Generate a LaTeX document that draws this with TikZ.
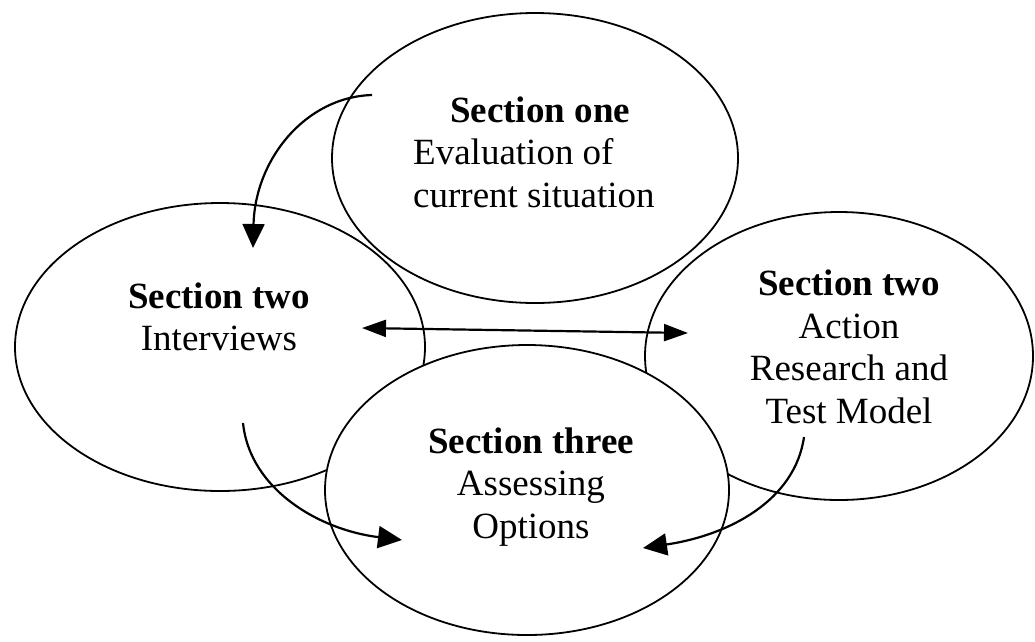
\documentclass[tikz,border=0pt]{standalone}
\usepackage{fontspec}
\setmainfont{Liberation Serif}
\usetikzlibrary{shapes.geometric,arrows.meta}
\begin{document}
\begin{tikzpicture}[x=1pt,y=-1pt,
  oval/.style={ellipse, draw, line width=1.8pt, inner sep=0pt},
  txt/.style={inner sep=0pt, font=\fontsize{37}{42.5}\selectfont, align=center},
  conn/.style={line width=2.2pt, -{Triangle[length=24pt,width=22pt]}},
  tipboth/.style={line width=2.2pt, {Triangle[length=24pt,width=17pt]}-{Triangle[length=24pt,width=17pt]}}
]
\useasboundingbox (0,0) rectangle (1035,641);
\node[oval, minimum width=410pt, minimum height=288pt] (interviews) at (220,347) {};
\node[oval, minimum width=388pt, minimum height=288pt] (action) at (839,356) {};
\node[oval, minimum width=406pt, minimum height=290pt] (one) at (535,158) {};
\node[oval, fill=white, minimum width=404pt, minimum height=290pt] (three) at (527,490) {};

\node[txt, align=left, anchor=west] (t1) at (413,152) {\hspace*{37pt}\textbf{Section one}\\Evaluation of\\current situation};
\node[txt] (t2) at (219,317) {\textbf{Section two}\\Interviews};
\node[txt] (t3) at (849,347) {\textbf{Section two}\\Action\\Research and\\Test Model};
\node[txt] (t4) at (531,487) {\textbf{Section three}\\Assessing\\Options};

\coordinate (a1s) at (372,95);
\coordinate (a1e) at (253,248);
\draw[conn] (a1s) .. controls (305,97) and (255,160) .. (a1e);
\coordinate (a2l) at (362,328);
\coordinate (a2r) at (688,333);
\draw[tipboth] (a2l) -- (a2r);
\coordinate (a3s) at (243,423);
\coordinate (a3e) at (402,540);
\draw[conn] (a3s) .. controls (250,490) and (320,530) .. (a3e);
\coordinate (a4s) at (804,437);
\coordinate (a4e) at (643,548);
\draw[conn] (a4s) .. controls (795,500) and (730,535) .. (a4e);
\end{tikzpicture}
\end{document}
